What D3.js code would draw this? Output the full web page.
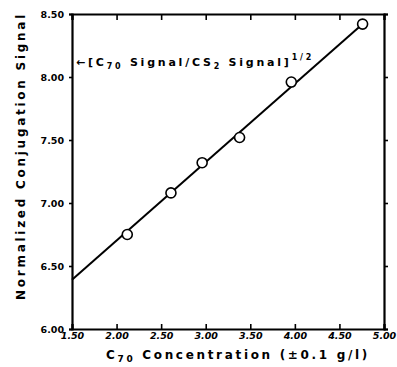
<!DOCTYPE html>
<html><head><meta charset="utf-8">
<script src="https://cdn.jsdelivr.net/npm/d3@7"></script>
<style>body{margin:0;background:#fff}svg{display:block}</style>
</head><body>
<svg id="c" width="397" height="367"></svg>
<script>
const concentration = [2.12, 2.61, 2.96, 3.38, 3.96, 4.76];
const signal = [6.75, 7.08, 7.32, 7.52, 7.96, 8.42];
const fitX = [1.5, 4.76];
const fitY = [6.39, 8.42];
const xTicks = [1.5, 2.0, 2.5, 3.0, 3.5, 4.0, 4.5, 5.0];
const yTicks = [6.0, 6.5, 7.0, 7.5, 8.0, 8.5];

const svg = d3.select("#c");
const m = {l:72, r:384, t:14, b:329};
const x = d3.scaleLinear().domain([1.5,5.0]).range([m.l,m.r]);
const y = d3.scaleLinear().domain([6.0,8.5]).range([m.b,m.t]);
const font = "'DejaVu Sans', 'Liberation Sans', sans-serif";

const gL = svg.append("g").attr("transform",`translate(${m.l},0)`)
  .call(d3.axisLeft(y).tickValues(yTicks).tickFormat(d3.format(".2f")).tickSize(3).tickPadding(5));
const gB = svg.append("g").attr("transform",`translate(0,${m.b})`)
  .call(d3.axisBottom(x).tickValues(xTicks).tickFormat(d3.format(".2f")).tickSize(-5).tickPadding(3));
const gT = svg.append("g").attr("transform",`translate(0,${m.t})`)
  .call(d3.axisTop(x).tickValues(xTicks).tickFormat("").tickSize(-6));
const gR = svg.append("g").attr("transform",`translate(${m.r},0)`)
  .call(d3.axisRight(y).tickValues(yTicks).tickFormat("").tickSize(4));
[gL,gB,gT,gR].forEach(g=>{
  g.select(".domain").attr("stroke-width",2.2).attr("stroke","#000");
  g.selectAll(".tick line").attr("stroke-width",1.6);
  g.selectAll("text").attr("font-family",font).attr("font-weight","bold").attr("font-size",9.5).attr("fill","#000");
});
gB.selectAll("text").attr("font-style","italic");

// fit line
svg.append("line")
  .attr("x1",x(fitX[0])).attr("y1",y(fitY[0]))
  .attr("x2",x(fitX[1])).attr("y2",y(fitY[1]))
  .attr("stroke","#000").attr("stroke-width",2);

// points
svg.selectAll("circle.p").data(concentration).join("circle")
  .attr("class","p")
  .attr("cx",d=>x(d)).attr("cy",(d,i)=>y(signal[i]))
  .attr("r",5).attr("fill","#fff").attr("stroke","#000").attr("stroke-width",1.6);

function fitWidth(t, w){
  const n = t.text().length;
  const cur = t.node().getComputedTextLength();
  t.attr("letter-spacing", (w-cur)/n);
}

// annotation
const ann = svg.append("text").attr("x",76).attr("y",66)
  .attr("font-family",font).attr("font-weight","bold").attr("font-size",11).attr("fill","#000");
ann.append("tspan").text("\u2190[C");
ann.append("tspan").attr("font-size",8).attr("dy",3).text("70");
ann.append("tspan").attr("dy",-3).text(" Signal/CS");
ann.append("tspan").attr("font-size",8).attr("dy",3).text("2");
ann.append("tspan").attr("dy",-3).text(" Signal]");
ann.append("tspan").attr("font-size",8).attr("dy",-6).text("1/2");
fitWidth(ann, 238);

// x title
const xt = svg.append("text").attr("x",106).attr("y",359)
  .attr("font-family",font).attr("font-weight","bold").attr("font-size",12).attr("fill","#000");
xt.append("tspan").text("C");
xt.append("tspan").attr("font-size",9).attr("dy",3).text("70");
xt.append("tspan").attr("dy",-3).text(" Concentration (\u00b10.1 g/l)");
fitWidth(xt, 264);

// y title
const yt = svg.append("text").attr("transform","translate(25,300) rotate(-90)")
  .attr("font-family",font).attr("font-weight","bold").attr("font-size",12).attr("fill","#000")
  .text("Normalized Conjugation Signal");
fitWidth(yt, 288);
</script>
</body></html>
